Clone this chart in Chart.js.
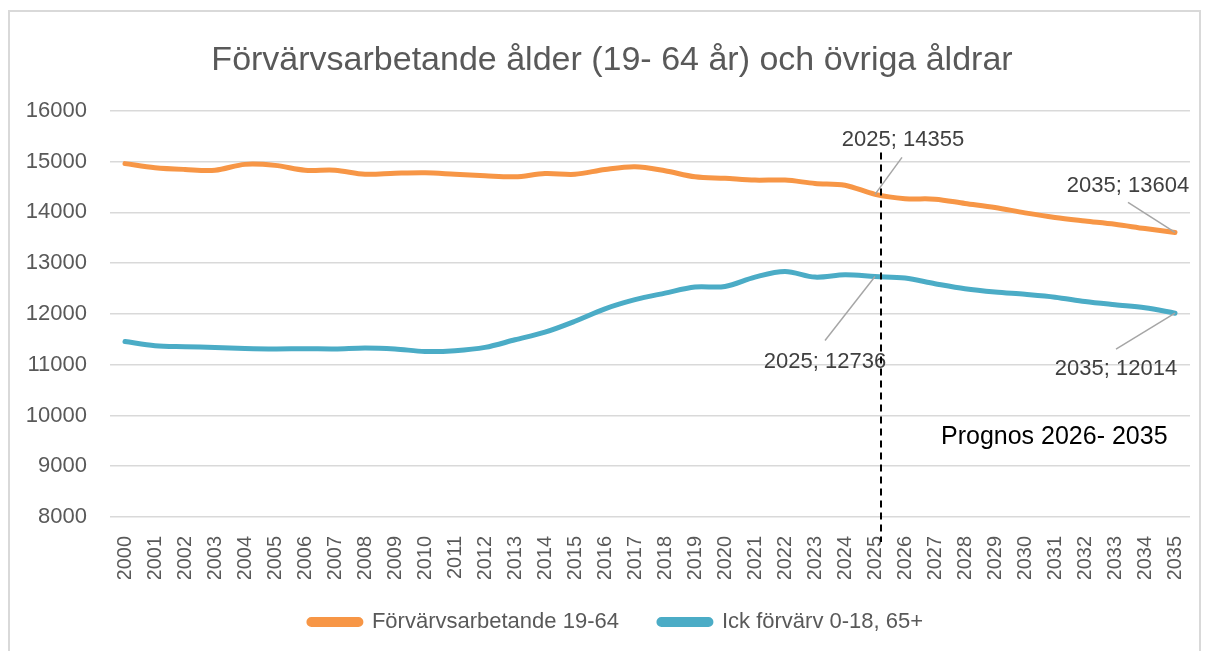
<!DOCTYPE html>
<html lang="sv">
<head>
<meta charset="utf-8">
<title>Förvärvsarbetande ålder (19- 64 år) och övriga åldrar</title>
<script src="https://cdn.jsdelivr.net/npm/chart.js@4.4.1/dist/chart.umd.min.js"></script>
<style>
  html, body { margin: 0; padding: 0; background: #fff; overflow: hidden; }
  .wrap { position: relative; width: 1205px; height: 651px; }
  .frame { position: absolute; left: 8px; top: 10px; width: 1193px; height: 700px; border: 2px solid #d9d9d9; box-sizing: border-box; }
  canvas { position: absolute; left: 0; top: 0; }
</style>
</head>
<body>
<div class="wrap">
  <div class="frame"></div>
  <canvas id="chart" width="1205" height="651"></canvas>
</div>
<script>
const years = ['2000', '2001', '2002', '2003', '2004', '2005', '2006', '2007', '2008', '2009',
  '2010', '2011', '2012', '2013', '2014', '2015', '2016', '2017', '2018', '2019',
  '2020', '2021', '2022', '2023', '2024', '2025', '2026', '2027', '2028', '2029',
  '2030', '2031', '2032', '2033', '2034', '2035'];

// Förvärvsarbetande 19-64
const arbetande = [14960, 14880, 14845, 14830, 14945, 14925, 14830, 14830, 14750, 14770,
  14780, 14750, 14720, 14700, 14765, 14750, 14845, 14900, 14820, 14700,
  14670, 14635, 14635, 14570, 14535, 14355, 14270, 14260, 14175, 14095,
  13990, 13900, 13830, 13765, 13680, 13604];

// Ick förvärv 0-18, 65+
const ickeArbetande = [11455, 11375, 11355, 11340, 11320, 11310, 11315, 11310, 11330, 11310,
  11260, 11275, 11340, 11490, 11640, 11855, 12100, 12280, 12410, 12530,
  12540, 12725, 12835, 12725, 12770, 12736, 12705, 12595, 12495, 12430,
  12385, 12330, 12245, 12180, 12120, 12014];

const seriesNames = ['Förvärvsarbetande 19-64', 'Ick förvärv 0-18, 65+'];
const seriesColors = ['#f79646', '#4bacc6'];
const annotatedYears = ['2025', '2035'];
const prognosText = 'Prognos 2026- 2035';
const yMin = 8000;
const yMax = 16000;
const yStep = 1000;

const grey = '#595959';
const fontFamily = '"Liberation Sans", Arial, sans-serif';

// positions of the data labels relative to their point
const labelPlacement = [
    { ds: 0, year: '2025', tx: 28, ty: -54, lx: 27, ly: -37 },
    { ds: 0, year: '2035', tx: -47, ty: -47, lx: -47, ly: -30 },
    { ds: 1, year: '2025', tx: -50, ty: 85, lx: -50, ly: 64 },
    { ds: 1, year: '2035', tx: -59, ty: 56, lx: -59, ly: 36 }
];

const overlay = {
    id: 'overlay',
    afterLayout(chart) {
        // title and legend sit a little right of centre in the original
        chart.titleBlock.left += 17;
        chart.titleBlock.right += 17;
        chart.legend.left += 21;
        chart.legend.right += 21;
        chart.legend.top -= 8;
        chart.legend.bottom -= 8;
    },
    afterDraw(chart) {
        const ctx = chart.ctx;
        const x = chart.scales.x;
        const y = chart.scales.y;

        ctx.save();
        ctx.font = '22px ' + fontFamily;
        ctx.textAlign = 'center';
        ctx.textBaseline = 'middle';
        labelPlacement.forEach(p => {
            if (!annotatedYears.includes(p.year)) return;
            const i = years.indexOf(p.year);
            const value = chart.data.datasets[p.ds].data[i];
            const px = x.getPixelForValue(i);
            const py = y.getPixelForValue(value);

            ctx.strokeStyle = '#a6a6a6';
            ctx.lineWidth = 1.5;
            ctx.beginPath();
            ctx.moveTo(px + p.lx, py + p.ly);
            ctx.lineTo(px, py);
            ctx.stroke();

            ctx.fillStyle = '#404040';
            ctx.fillText(p.year + '; ' + value, px + p.tx, py + p.ty);
        });

        // dashed separator at the start of the forecast
        const sx = x.getPixelForValue(years.indexOf('2025')) + 6;
        ctx.strokeStyle = '#000';
        ctx.lineWidth = 2;
        ctx.setLineDash([7, 5]);
        ctx.beginPath();
        ctx.moveTo(sx, y.getPixelForValue(15180));
        ctx.lineTo(sx, y.bottom + 25);
        ctx.stroke();
        ctx.setLineDash([]);

        ctx.fillStyle = '#000';
        ctx.font = '25px ' + fontFamily;
        ctx.textAlign = 'left';
        ctx.fillText(prognosText, x.getPixelForValue(years.indexOf('2027')) + 6, y.getPixelForValue(9570));
        ctx.restore();
    }
};

document.addEventListener('DOMContentLoaded', function () {
    const ctx = document.getElementById('chart').getContext('2d');

    new Chart(ctx, {
        type: 'line',
        data: {
            labels: years,
            datasets: [arbetande, ickeArbetande].map((values, i) => ({
                label: seriesNames[i],
                data: values,
                borderColor: seriesColors[i],
                backgroundColor: seriesColors[i],
                borderWidth: 5,
                borderCapStyle: 'round',
                borderJoinStyle: 'round',
                pointRadius: 0,
                tension: 0.33,
                fill: false
            }))
        },
        options: {
            responsive: false,
            animation: false,
            layout: {
                padding: { left: 0, right: 15, top: 0, bottom: 0 }
            },
            scales: {
                x: {
                    offset: true,
                    grid: { display: false },
                    border: { display: false },
                    ticks: {
                        autoSkip: false,
                        maxRotation: 90,
                        minRotation: 90,
                        padding: 11,
                        color: grey,
                        font: { family: fontFamily, size: 20 }
                    },
                    afterFit: (scale) => {
                        scale.height = 62;
                        scale.paddingLeft = 0;
                        scale.paddingRight = 0;
                    }
                },
                y: {
                    min: yMin,
                    max: yMax,
                    grid: { color: '#d9d9d9', lineWidth: 1.5, drawTicks: false },
                    border: { display: false },
                    ticks: {
                        stepSize: yStep,
                        padding: 23,
                        color: grey,
                        font: { family: fontFamily, size: 22 },
                        callback: (value) => String(value)
                    },
                    afterFit: (scale) => { scale.width = 110; }
                }
            },
            plugins: {
                title: {
                    display: true,
                    text: 'Förvärvsarbetande ålder (19- 64 år) och övriga åldrar',
                    color: grey,
                    font: { family: fontFamily, size: 34, weight: 'normal' },
                    padding: { top: 40, bottom: 30 }
                },
                legend: {
                    position: 'bottom',
                    labels: {
                        boxWidth: 52,
                        boxHeight: 5,
                        useBorderRadius: true,
                        borderRadius: 2.5,
                        padding: 40,
                        color: grey,
                        font: { family: fontFamily, size: 22 }
                    }
                },
                tooltip: { enabled: false }
            }
        },
        plugins: [overlay]
    });
});
</script>
</body>
</html>
